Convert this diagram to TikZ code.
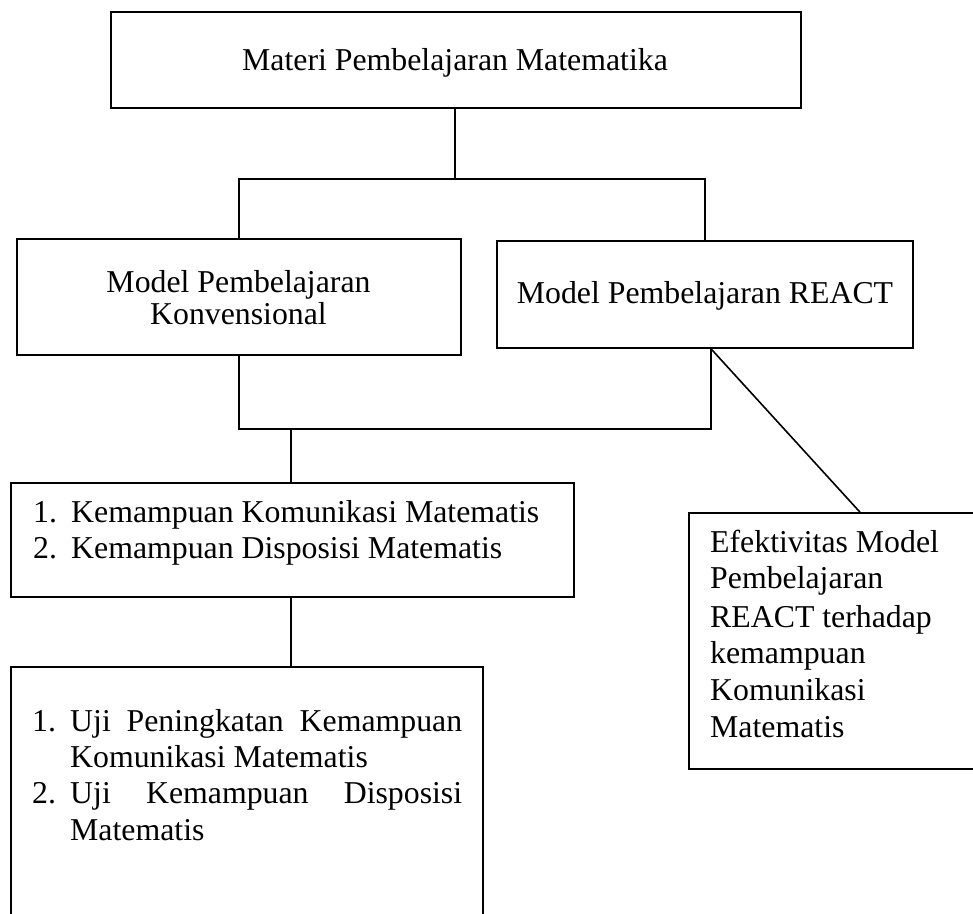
\documentclass[tikz,border=0pt]{standalone}
\usepackage{fontspec}
\setmainfont{Liberation Serif}
\begin{document}
\begin{tikzpicture}[x=1pt,y=-1pt,
  boxstyle/.style={draw=black,line width=1.6pt},
  conn/.style={draw=black,line width=1.6pt},
  txt/.style={inner sep=0pt,anchor=base west,font=\fontsize{31.8}{36}\selectfont},
  ctxt/.style={inner sep=0pt,anchor=base,font=\fontsize{31.8}{36}\selectfont}]
\clip (0,0) rectangle (973,913);
\fill[white] (0,0) rectangle (973,913);
% boxes
\node[boxstyle,minimum width=690pt,minimum height=96pt,inner sep=0pt] (top) at (456,60) {};
\node[boxstyle,minimum width=444pt,minimum height=116pt,inner sep=0pt] (konv) at (239,297) {};
\node[boxstyle,minimum width=416pt,minimum height=107pt,inner sep=0pt] (react) at (705,294.5) {};
\node[boxstyle,minimum width=563pt,minimum height=114pt,inner sep=0pt] (mid) at (292.5,540) {};
\node[boxstyle,minimum width=472pt,minimum height=280pt,inner sep=0pt] (bot) at (247,807) {};
\node[boxstyle,minimum width=320pt,minimum height=256pt,inner sep=0pt] (efek) at (849,641) {};
% texts
\node[ctxt] (t1) at (455,70) {Materi Pembelajaran Matematika};
\node[ctxt] (t2a) at (238.5,292) {Model Pembelajaran};
\node[ctxt] (t2b) at (238.5,324) {Konvensional};
\node[ctxt] (t3) at (705,303) {Model Pembelajaran REACT};
\node[txt] (m1n) at (33,522) {1.};
\node[txt] (m1) at (71,522) {Kemampuan Komunikasi Matematis};
\node[txt] (m2n) at (33,558) {2.};
\node[txt] (m2) at (71,558) {Kemampuan Disposisi Matematis};
\node[txt] (b1n) at (32,731) {1.};
\node[txt] (b1) at (70,731) {\makebox[392pt][s]{Uji Peningkatan Kemampuan}};
\node[txt] (b2) at (70,767) {Komunikasi Matematis};
\node[txt] (b3n) at (32,803) {2.};
\node[txt] (b3) at (70,803) {\makebox[392pt][s]{Uji Kemampuan Disposisi}};
\node[txt] (b4) at (70,840) {Matematis};
\node[txt] (e1) at (710,552) {Efektivitas Model};
\node[txt] (e2) at (710,588) {Pembelajaran};
\node[txt] (e3) at (710,627) {REACT terhadap};
\node[txt] (e4) at (710,663) {kemampuan};
\node[txt] (e5) at (710,700) {Komunikasi};
\node[txt] (e6) at (710,737) {Matematis};
% connectors
\coordinate (j1) at (455,179);
\coordinate (j2) at (291,429);
\draw[conn] (top.south -| j1) -- (j1);
\draw[conn] (konv.north) |- (j1) -| (react.north);
\draw[conn] (konv.south) |- (j2) -| ([xshift=6pt]react.south);
\draw[conn] (j2) -- (j2 |- mid.north);
\draw[conn] (mid.south -| j2) -- (j2 |- bot.north);
\draw[conn] ([xshift=6pt]react.south) -- (efek.north west -| 860,0);
\end{tikzpicture}
\end{document}
